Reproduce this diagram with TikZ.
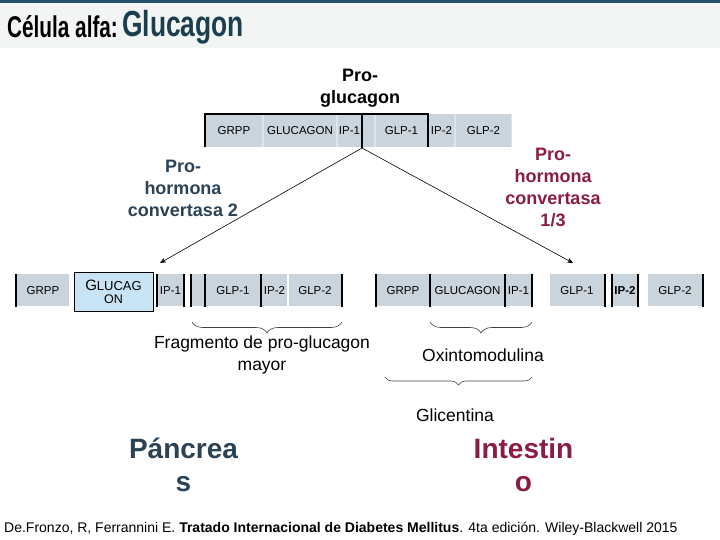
\documentclass[tikz,border=0pt]{standalone}
\usepackage{graphicx}
\usepackage{fontspec}
\setmainfont{Liberation Sans}
\usetikzlibrary{arrows.meta,decorations.pathreplacing}
\definecolor{segc}{HTML}{C9D4DC}
\definecolor{sepc}{HTML}{DDE5EA}
\definecolor{slate}{HTML}{2B4356}
\definecolor{maroonc}{HTML}{8A1C45}
\definecolor{titlec}{HTML}{1B3F4E}
\definecolor{bandc}{HTML}{F3F5F5}
\definecolor{topc}{HTML}{20506A}
\definecolor{glubox}{HTML}{C8E4F4}
\begin{document}
\begin{tikzpicture}[x=1pt,y=-1pt,
  topseg/.style={fill=segc, inner sep=0pt, minimum height=33pt, text height=8.5pt, text depth=0pt, font=\fontsize{11.5}{13}\selectfont},
  rowseg/.style={fill=segc, inner sep=0pt, minimum height=32pt, text height=8.5pt, text depth=0pt, font=\fontsize{11.5}{13}\selectfont},
  blk/.style={line width=1.1pt, black},
  arr/.style={line width=0.6pt, -{Stealth[length=6pt,width=5pt]}},
  brc/.style={decorate, decoration={brace, amplitude=#1}, line width=0.6pt, draw=black!75},
  blabel/.style={font=\fontsize{18}{22}\selectfont\bfseries, align=center, inner sep=0pt},
  rlabel/.style={font=\fontsize{17.5}{22}\selectfont, align=center, inner sep=0pt},
  organ/.style={font=\fontsize{28}{33}\selectfont\bfseries, align=center, inner sep=0pt}]
\useasboundingbox (0,0) rectangle (720,540);
\fill[white] (0,0) rectangle (720,540);
% title band
\fill[bandc] (0,3) rectangle (720,48);
\fill[topc] (0,0) rectangle (720,3);
\node[anchor=base west, inner sep=0pt] (title1) at (7,38) {\scalebox{0.83}[1.2]{\fontsize{25}{25}\selectfont\bfseries Célula alfa:}};
\node[anchor=base west, inner sep=0pt, text=titlec] (title2) at (122,37) {\scalebox{0.91}[1.25]{\fontsize{29}{29}\selectfont\bfseries Glucagon}};

% pro-glucagon label
\node[blabel] (prog) at (360,88) {Pro-\\glucagon};

% top bar
\fill[sepc] (205,114) rectangle (512,147);
\node[topseg, minimum width=56pt] (t1) at (234,130.5) {GRPP};
\node[topseg, minimum width=72pt] (t2) at (300,130.5) {GLUCAGON};
\node[topseg, minimum width=23pt] (t3) at (349.5,130.5) {IP-1};
\node[topseg, minimum width=11pt] (t4) at (368.5,130.5) {};
\node[topseg, minimum width=51pt] (t5) at (401.5,130.5) {GLP-1};
\node[topseg, minimum width=25pt] (t6) at (441.5,130.5) {IP-2};
\node[topseg, minimum width=55pt] (t7) at (483.5,130.5) {GLP-2};
\draw[blk] (205,147) -- (205,114) -- (428,114) -- (428,147);
\draw[blk] (362,114) -- (362,148);

% arrows
\coordinate (split) at (362,148);
\coordinate (lend) at (160,263);
\coordinate (rend) at (573,263);
\draw[arr] (split) -- (lend);
\draw[arr] (split) -- (rend);

\node[blabel, text=slate] (pc2) at (183,188) {Pro-\\hormona\\convertasa 2};
\node[blabel, text=maroonc] (pc13) at (553,187) {Pro-\\hormona\\convertasa\\1/3};

% row 2 left
\node[rowseg, minimum width=52pt] (a1) at (43,290) {GRPP};
\node[fill=glubox, draw=black, line width=0.8pt, minimum width=79pt, minimum height=39pt, inner sep=0pt, align=center] (a2) at (113.5,291.5)
  {{\fontsize{15}{15}\selectfont G}{\fontsize{13}{13}\selectfont LUCAG}\\[1pt]{\fontsize{12.5}{13}\selectfont ON}};
\node[rowseg, minimum width=25pt] (a3) at (170.5,290) {IP-1};
\node[rowseg, minimum width=12pt] (a4) at (198,290) {};
\node[rowseg, minimum width=54pt] (a5) at (233,290) {GLP-1};
\node[rowseg, minimum width=25pt] (a6) at (274.5,290) {IP-2};
\node[rowseg, minimum width=52pt] (a7) at (315,290) {GLP-2};
\foreach \xx in {16,157,184,191,205,261,342} \draw[blk] (\xx,274) -- (\xx,307);

% row 2 right
\node[rowseg, minimum width=52pt] (b1) at (403,290) {GRPP};
\node[rowseg, minimum width=73pt] (b2) at (467.5,290) {GLUCAGON};
\node[rowseg, minimum width=25pt] (b3) at (518.5,290) {IP-1};
\node[rowseg, minimum width=54pt] (b4) at (577,290) {GLP-1};
\node[rowseg, minimum width=24pt, font=\fontsize{11.5}{13}\selectfont\bfseries] (b5) at (625,290) {IP-2};
\node[rowseg, minimum width=54pt] (b6) at (675,290) {GLP-2};
\foreach \xx in {376,430,505,532,605,612,638,703} \draw[blk] (\xx,274) -- (\xx,307);

% braces
\coordinate (fr) at (342,322); \coordinate (fl) at (192,322);
\coordinate (or) at (532,322); \coordinate (ol) at (430,322);
\coordinate (gr) at (532,377); \coordinate (gl) at (385,377);
\draw[brc=11pt] (fr) -- (fl);
\draw[brc=11pt] (or) -- (ol);
\draw[brc=8pt] (gr) -- (gl);

\node[rlabel] (frag) at (262,355) {Fragmento de pro-glucagon\\mayor};
\node[rlabel] (oxi) at (483,355) {Oxintomodulina};
\node[rlabel] (gli) at (455,415) {Glicentina};

% organs
\node[organ, text=slate] (panc) at (183.5,465) {Páncrea\\s};
\node[organ, text=maroonc] (inte) at (523.5,465) {Intestin\\o};

% citation
\node[anchor=base west, inner sep=0pt, font=\fontsize{14}{16}\selectfont] (cite) at (4,532)
  {De.Fronzo, R, Ferrannini E. \textbf{Tratado Internacional de Diabetes Mellitus}. 4ta edición. Wiley-Blackwell 2015};
\end{tikzpicture}
\end{document}
